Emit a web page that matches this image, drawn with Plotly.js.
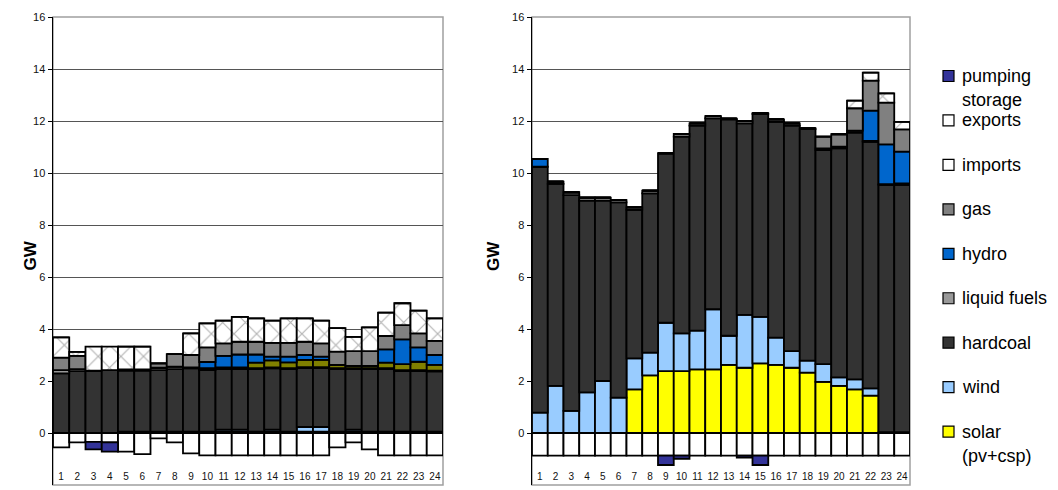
<!DOCTYPE html>
<html>
<head>
<meta charset="utf-8">
<script src="https://cdn.plot.ly/plotly-3.0.1.min.js"></script>
<style>html,body{margin:0;padding:0;background:#fff;}#chart{width:1058px;height:490px;}</style>
</head>
<body>
<div id="chart"></div>
<script>
// ---------- data ----------
var hours = ['1','2','3','4','5','6','7','8','9','10','11','12','13','14','15','16','17','18','19','20','21','22','23','24'];

// left chart (GW)
var solarL    = [0,0,0,0,0.05,0.05,0.05,0.05,0.05,0.05,0.05,0.05,0.05,0.05,0.05,0.05,0.05,0.05,0.05,0.05,0.05,0.05,0.05,0.05];
var windL     = [0,0,0,0,0,0,0,0,0,0,0.08,0.08,0,0.08,0,0.18,0.18,0,0.08,0,0,0,0,0];
var hardcoalL = [2.29,2.38,2.40,2.42,2.35,2.35,2.37,2.41,2.44,2.37,2.33,2.33,2.41,2.36,2.41,2.27,2.27,2.41,2.33,2.41,2.41,2.33,2.33,2.32];
var liquidL   = [0.13,0.08,0,0,0.05,0.05,0.09,0.09,0.03,0.07,0.06,0.06,0.03,0.03,0.03,0.03,0.03,0.03,0.03,0.03,0.03,0.04,0.04,0.03];
var oliveL    = [0,0,0,0,0,0,0,0,0,0,0,0,0.22,0.27,0.23,0.28,0.28,0.13,0.09,0.09,0.22,0.23,0.32,0.22];
var hydroL    = [0,0,0,0,0,0,0,0,0,0.24,0.45,0.50,0.31,0.15,0.22,0.19,0.13,0,0,0,0.51,0.95,0.55,0.38];
var gasL      = [0.48,0.51,0,0,0,0,0.17,0.48,0.48,0.56,0.48,0.49,0.49,0.53,0.53,0.51,0.51,0.51,0.57,0.57,0.51,0.55,0.54,0.54];
var importsL  = [0.78,0.15,0.92,0.90,0.87,0.87,0,0,0.83,0.93,0.87,0.96,0.90,0.85,0.94,0.90,0.87,0.90,0.55,0.91,0.90,0.84,0.88,0.87];
var exportsL  = [-0.55,-0.36,-0.34,-0.36,-0.72,-0.81,-0.21,-0.36,-0.78,-0.86,-0.86,-0.86,-0.86,-0.86,-0.86,-0.86,-0.86,-0.55,-0.36,-0.63,-0.86,-0.86,-0.86,-0.86];
var pumpL     = [0,0,-0.29,-0.36,0,0,0,0,0,0,0,0,0,0,0,0,0,0,0,0,0,0,0,0];

// right chart (GW)
var solarR    = [0,0,0,0,0,0,1.68,2.22,2.38,2.38,2.45,2.45,2.62,2.51,2.68,2.62,2.51,2.32,1.97,1.81,1.68,1.44,0,0];
var windR     = [0.78,1.81,0.85,1.56,2.00,1.36,1.19,0.87,1.86,1.45,1.49,2.31,1.12,2.03,1.79,1.05,0.64,0.46,0.68,0.33,0.38,0.28,0.03,0.03];
var hardcoalR = [9.46,7.77,8.30,7.38,6.94,7.51,5.71,6.13,6.52,7.57,7.88,7.34,8.32,7.37,7.80,8.30,8.67,8.91,8.23,8.81,9.49,9.48,9.51,9.51];
var liquidR   = [0,0.09,0.11,0.11,0.11,0.09,0.10,0.10,0,0.10,0.09,0.09,0.03,0.09,0.03,0.09,0.09,0.03,0.07,0.06,0.08,0.03,0.03,0.06];
var oliveR    = [0,0,0,0,0,0,0,0,0,0,0,0,0,0,0,0,0,0,0,0,0,0,0,0];
var hydroR    = [0.30,0,0,0,0,0,0,0,0,0,0,0,0,0,0,0,0,0,0,0,0,1.17,1.53,1.22];
var gasR      = [0,0,0,0,0,0,0,0,0,0,0,0,0,0,0,0,0,0,0.45,0.48,0.86,1.15,1.61,0.86];
var importsR  = [0,0,0,0,0,0,0,0,0,0,0,0,0,0,0,0,0,0,0,0,0.29,0.31,0.35,0.29];
var exportsR  = [-0.87,-0.87,-0.87,-0.87,-0.87,-0.87,-0.87,-0.87,-0.87,-0.87,-0.87,-0.87,-0.87,-0.87,-0.87,-0.87,-0.87,-0.87,-0.87,-0.87,-0.87,-0.87,-0.87,-0.87];
var pumpR     = [0,0,0,0,0,0,0,0,-0.36,-0.12,0,0,0,-0.08,-0.36,0,0,0,0,0,0,0,0,0];

var yTicks = [-2,0,2,4,6,8,10,12,14,16];

// legend (top to bottom)
var legendNames  = [['pumping','storage'],['exports'],['imports'],['gas'],['hydro'],['liquid fuels'],['hardcoal'],['wind'],['solar','(pv+csp)']];
var legendColors = ['#333399','#ffffff','#ffffff','#808080','#0066cc','#999999','#333333','#99ccff','#ffff00'];

// ---------- styles ----------
var C = {solar:'#ffff00', wind:'#99ccff', hardcoal:'#333333', liquid:'#999999', olive:'#808000',
         hydro:'#0066cc', gas:'#808080', imports:'#ffffff', exports:'#ffffff', pump:'#333399'};
var lineStyle = {color:'#000000', width:1.8};

function series(name, y, color, xa, ya, pattern){
  var m = {color: color, line: lineStyle};
  if (pattern) m.pattern = {shape:'x', fgcolor:'#b4b4b4', bgcolor:'#ffffff', size:16, solidity:0.14};
  return {type:'bar', name:name, x:hours, y:y, xaxis:xa, yaxis:ya, marker:m, showlegend:false, hoverinfo:'name+y'};
}
function stack(d, xa, ya){
  return [
    series('solar (pv+csp)', d[0], C.solar, xa, ya),
    series('wind', d[1], C.wind, xa, ya),
    series('hardcoal', d[2], C.hardcoal, xa, ya),
    series('liquid fuels', d[3], C.liquid, xa, ya),
    series('other', d[4], C.olive, xa, ya),
    series('hydro', d[5], C.hydro, xa, ya),
    series('gas', d[6], C.gas, xa, ya),
    series('imports', d[7], C.imports, xa, ya, true),
    series('exports', d[8], C.exports, xa, ya),
    series('pumping storage', d[9], C.pump, xa, ya)
  ];
}
var traces = stack([solarL,windL,hardcoalL,liquidL,oliveL,hydroL,gasL,importsL,exportsL,pumpL],'x','y')
  .concat(stack([solarR,windR,hardcoalR,liquidR,oliveR,hydroR,gasR,importsR,exportsR,pumpR],'x2','y2'));

var W = 1058, H = 490;
var yDom = [1 - 485/H, 1 - 17/H];
function xax(dom, anchor){
  return {domain:dom, anchor:anchor, type:'category', showgrid:false, zeroline:false, showline:false,
          ticks:'', ticklabelposition:'inside', tickfont:{family:'Liberation Sans, Arial', size:10, color:'#111'},
          fixedrange:true};
}
function yax(anchor){
  return {domain:yDom, anchor:anchor, range:[-2,16], tickvals:yTicks, showgrid:true, gridcolor:'#555555', gridwidth:1,
          zeroline:false, showline:true, linecolor:'#000000', linewidth:1.5, ticks:'outside', ticklen:4, tickcolor:'#000',
          tickfont:{family:'Liberation Sans, Arial', size:11, color:'#111'}, fixedrange:true};
}
var xL = [53/W, 443/W], xR = [532/W, 910/W];

var shapes = [
  {type:'rect', xref:'x domain', yref:'y domain', x0:0, x1:1, y0:0, y1:1, line:{color:'#a0a0a0', width:1.5}, layer:'below'},
  {type:'rect', xref:'x2 domain', yref:'y2 domain', x0:0, x1:1, y0:0, y1:1, line:{color:'#a0a0a0', width:1.5}, layer:'below'}
];
var annotations = [
  {text:'<b>GW</b>', xref:'paper', yref:'paper', x:18/W, y:1-256/H, textangle:-90, showarrow:false,
   font:{family:'Liberation Sans, Arial', size:17, color:'#000'}},
  {text:'<b>GW</b>', xref:'paper', yref:'paper', x:493/W, y:1-256/H, textangle:-90, showarrow:false,
   font:{family:'Liberation Sans, Arial', size:17, color:'#000'}}
];
// manual legend
var legTop = 76, legStep = 44.45, lineH = 24;
legendNames.forEach(function(lines, i){
  var yc = legTop + i*legStep;
  shapes.push({type:'rect', xref:'paper', yref:'paper', x0:943/W, x1:954/W, y0:1-(yc+5.5)/H, y1:1-(yc-5.5)/H,
               fillcolor:legendColors[i], line:{color:'#000', width:1.2}});
  lines.forEach(function(t, k){
    annotations.push({text:t, xref:'paper', yref:'paper', x:960/W, y:1-(yc+k*lineH)/H, xanchor:'left', yanchor:'middle',
                      showarrow:false, font:{family:'Liberation Sans, Arial', size:18, color:'#000'}});
  });
});

var layout = {
  width:W, height:H, margin:{l:0,r:0,t:0,b:0}, paper_bgcolor:'#ffffff', plot_bgcolor:'#ffffff',
  barmode:'relative', bargap:0, showlegend:false,
  xaxis:xax(xL,'y'), yaxis:yax('x'), xaxis2:xax(xR,'y2'), yaxis2:yax('x2'),
  shapes:shapes, annotations:annotations
};
Plotly.newPlot('chart', traces, layout, {staticPlot:true, displayModeBar:false});
</script>
</body>
</html>
